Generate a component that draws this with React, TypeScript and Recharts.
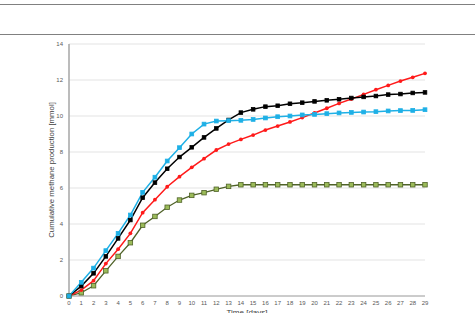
import React from 'react';
import { LineChart, Line, XAxis, YAxis, CartesianGrid } from 'recharts';

const days = [0,1,2,3,4,5,6,7,8,9,10,11,12,13,14,15,16,17,18,19,20,21,22,23,24,25,26,27,28,29];
const blueSeries = [0,0.76,1.55,2.52,3.48,4.5,5.76,6.6,7.5,8.24,9.0,9.55,9.72,9.74,9.76,9.81,9.89,9.96,10.0,10.06,10.09,10.13,10.17,10.2,10.22,10.24,10.28,10.3,10.31,10.35];
const blackSeries = [0,0.55,1.26,2.2,3.2,4.22,5.46,6.3,7.07,7.72,8.26,8.81,9.31,9.78,10.19,10.37,10.52,10.57,10.68,10.74,10.81,10.87,10.93,11.0,11.06,11.11,11.19,11.22,11.28,11.31];
const redSeries = [0,0.33,0.85,1.8,2.6,3.48,4.63,5.35,6.07,6.63,7.15,7.63,8.11,8.44,8.7,8.94,9.22,9.44,9.67,9.91,10.17,10.43,10.7,10.94,11.2,11.46,11.7,11.94,12.15,12.37];
const greenSeries = [0,0.18,0.57,1.4,2.2,2.96,3.93,4.42,4.93,5.33,5.59,5.74,5.93,6.09,6.18,6.18,6.18,6.18,6.18,6.18,6.18,6.18,6.18,6.18,6.18,6.18,6.18,6.18,6.18,6.18];
const yTicks = [0,2,4,6,8,10,12,14];
const xTicks = days;

const data = days.map((d, i) => ({ day: d, blue: blueSeries[i], black: blackSeries[i], red: redSeries[i], green: greenSeries[i] }));

const SquareDot = (fill: string, stroke: string, size: number) => (props: any) => {
  const { cx, cy } = props;
  if (cx == null || cy == null) return null;
  return <rect x={cx - size / 2} y={cy - size / 2} width={size} height={size} fill={fill} stroke={stroke} strokeWidth={0.8} />;
};
const CircleDot = (fill: string, r: number) => (props: any) => {
  const { cx, cy } = props;
  if (cx == null || cy == null) return null;
  return <circle cx={cx} cy={cy} r={r} fill={fill} />;
};

const tickStyle = { fontSize: 6, fill: '#595959', fontFamily: 'Liberation Sans, Arial, sans-serif' };

export default function App() {
  return (
    <div style={{ position: 'absolute', left: 0, top: 0, width: 475, height: 313, background: '#fff', overflow: 'hidden' }}>
      <div style={{ position: 'absolute', left: 0, top: 4, width: 475, height: 1, background: '#808080' }} />
      <div style={{ position: 'absolute', left: 0, top: 34, width: 475, height: 1, background: '#808080' }} />
      <div style={{ position: 'absolute', left: 0, top: 0 }}>
        <LineChart width={475} height={320} data={data} margin={{ top: 44, right: 50, bottom: 7, left: 0 }}>
          <CartesianGrid vertical={false} stroke="#e3e3e3" strokeWidth={1} />
          <XAxis
            dataKey="day"
            type="number"
            domain={[0, 29]}
            ticks={xTicks}
            interval={0}
            height={17}
            tickLine={false}
            tickSize={0}
            tickMargin={5}
            axisLine={{ stroke: '#a6a6a6', strokeWidth: 1 }}
            tick={tickStyle}
            label={{ value: 'Time [days]', position: 'bottom', offset: -4, style: { fontSize: 8, fill: '#404040', fontFamily: 'Liberation Sans, Arial, sans-serif' } }}
          />
          <YAxis
            type="number"
            domain={[0, 14]}
            ticks={yTicks}
            width={69}
            tickLine={false}
            tickSize={0}
            tickMargin={6}
            axisLine={{ stroke: '#a6a6a6', strokeWidth: 1.5 }}
            tick={tickStyle}
            label={{ value: 'Cumulative methane production [mmol]', angle: -90, position: 'center', dx: 17, style: { fontSize: 7.8, fill: '#404040', fontFamily: 'Liberation Sans, Arial, sans-serif', textAnchor: 'middle' } }}
          />
          <Line dataKey="green" stroke="#4f6228" strokeWidth={1.3} dot={SquareDot('#9bbb59', '#4f6228', 4.5)} isAnimationActive={false} />
          <Line dataKey="red" stroke="#ff1a1a" strokeWidth={1.5} dot={CircleDot('#ff1a1a', 1.9)} isAnimationActive={false} />
          <Line dataKey="black" stroke="#000000" strokeWidth={1.5} dot={SquareDot('#000000', '#000000', 3.6)} isAnimationActive={false} />
          <Line dataKey="blue" stroke="#1eb0e6" strokeWidth={1.5} dot={SquareDot('#1eb0e6', '#1eb0e6', 3.8)} isAnimationActive={false} />
        </LineChart>
      </div>
    </div>
  );
}
